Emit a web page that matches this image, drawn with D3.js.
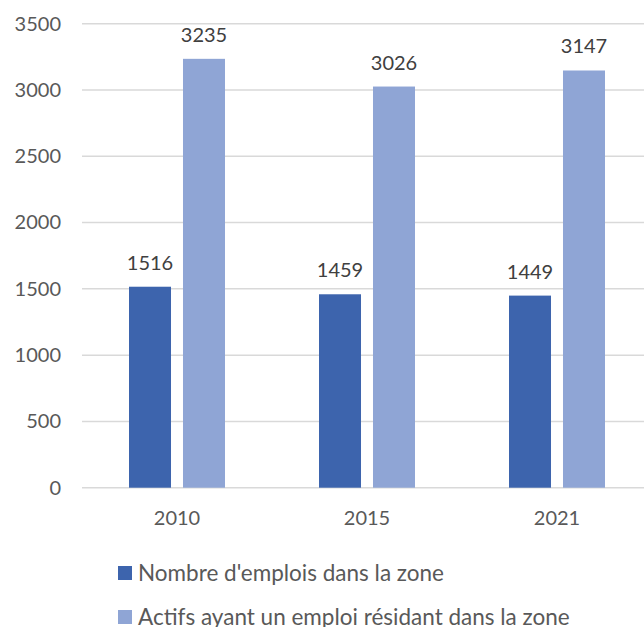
<!DOCTYPE html>
<html>
<head>
<meta charset="utf-8">
<script src="https://cdn.jsdelivr.net/npm/d3@7"></script>
<style>
  html, body { margin: 0; padding: 0; background: #fff; }
  svg { display: block; font-family: Lato, "Open Sans", sans-serif; }
</style>
</head>
<body>
<svg id="chart" width="644" height="627"></svg>
<script>
// Chart data
const years = ["2010", "2015", "2021"];
const seriesNames = ["Nombre d'emplois dans la zone", "Actifs ayant un emploi résidant dans la zone"];
const emplois = [1516, 1459, 1449];
const actifs = [3235, 3026, 3147];
const yTicks = [0, 500, 1000, 1500, 2000, 2500, 3000, 3500];
const colors = ["#3D64AD", "#8FA5D5"];

const seriesValues = [emplois, actifs];
const rows = years.map((y, i) => ({
  year: y,
  values: seriesNames.map((s, k) => ({ key: s, idx: k, value: seriesValues[k][i] }))
}));

const svg = d3.select("#chart");

const y = d3.scaleLinear().domain([0, 3500]).range([487.7, 23.7]);
const x0 = d3.scaleBand().domain(years).range([82, 652]);
const x1 = d3.scaleBand().domain(seriesNames).range([47, 143]).paddingInner(0.222);

// Horizontal gridlines
svg.append("g")
  .selectAll("line")
  .data(yTicks)
  .join("line")
  .attr("x1", 82).attr("x2", 644)
  .attr("y1", d => y(d)).attr("y2", d => y(d))
  .attr("stroke", "#D9D9D9")
  .attr("stroke-width", 1.5);

// Y axis labels
const yAxis = d3.axisLeft(y).tickValues(yTicks).tickSize(0).tickPadding(0).tickFormat(d3.format("d"));
svg.append("g")
  .attr("transform", "translate(61,0)")
  .call(yAxis)
  .call(g => g.select(".domain").remove())
  .call(g => g.selectAll("text")
    .attr("fill", "#595959")
    .style("font-size", "20px")
    .style("font-family", "Lato, sans-serif"));

// Bars
const groups = svg.append("g")
  .selectAll("g")
  .data(rows)
  .join("g")
  .attr("transform", d => `translate(${x0(d.year)},0)`);

groups.selectAll("rect")
  .data(d => d.values)
  .join("rect")
  .attr("x", d => x1(d.key))
  .attr("width", x1.bandwidth())
  .attr("y", d => y(d.value))
  .attr("height", d => y(0) - y(d.value))
  .attr("fill", d => colors[d.idx]);

// Value labels
groups.selectAll("text")
  .data(d => d.values)
  .join("text")
  .attr("x", d => x1(d.key) + x1.bandwidth() / 2)
  .attr("y", d => y(d.value) - 17)
  .attr("text-anchor", "middle")
  .attr("fill", "#404040")
  .style("font-size", "20px")
  .text(d => d.value);

// X axis labels
const xAxis = d3.axisBottom(x0).tickSize(0).tickPadding(0);
svg.append("g")
  .attr("transform", "translate(0,510)")
  .call(xAxis)
  .call(g => g.select(".domain").remove())
  .call(g => g.selectAll("text")
    .attr("dy", "0.75em")
    .attr("fill", "#595959")
    .style("font-size", "20px")
    .style("font-family", "Lato, sans-serif"));

// Legend
const legend = svg.append("g")
  .selectAll("g")
  .data(seriesNames)
  .join("g")
  .attr("transform", (d, i) => `translate(118,${566 + i * 44})`);

legend.append("rect")
  .attr("width", 14).attr("height", 14)
  .attr("fill", (d, i) => colors[i]);

legend.append("text")
  .attr("x", 20)
  .attr("y", 7)
  .attr("dy", "0.36em")
  .attr("fill", "#595959")
  .style("font-size", "22.5px")
  .text(d => d);
</script>
</body>
</html>
